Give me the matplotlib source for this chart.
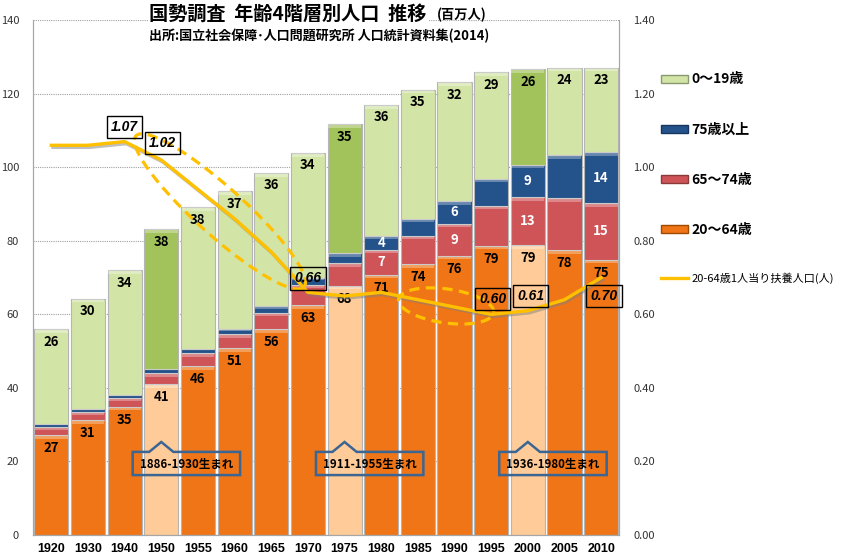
import numpy as np
import matplotlib.pyplot as plt
from matplotlib.patches import Patch, Polygon
from matplotlib.lines import Line2D
import matplotlib.patheffects as pe

plt.rcParams['font.family'] = ['Noto Sans CJK JP', 'DejaVu Sans']

# データ（百万人）
years = ['1920', '1930', '1940', '1950', '1955', '1960', '1965', '1970',
         '1975', '1980', '1985', '1990', '1995', '2000', '2005', '2010']
pop_20_64 = [27.2, 31.3, 34.9, 41.0, 46.0, 50.8, 56.0, 62.6,
             67.8, 70.8, 73.7, 76.0, 78.7, 78.8, 77.5, 74.9]
pop_65_74 = [2.2, 2.2, 2.4, 3.1, 3.4, 3.9, 4.5, 5.5,
             6.2, 6.8, 7.7, 8.7, 10.9, 13.0, 14.2, 15.3]
pop_75_over = [0.8, 0.8, 0.8, 1.0, 1.3, 1.4, 1.7, 1.8,
               2.6, 3.8, 4.6, 6.1, 7.3, 8.9, 11.6, 14.0]
pop_0_19 = [25.7, 30.0, 33.9, 38.1, 38.4, 37.4, 36.3, 34.0,
            35.1, 35.6, 35.1, 32.3, 28.9, 26.0, 23.8, 22.9]
# 20-64歳1人当り扶養人口
ratio = [1.06, 1.06, 1.07, 1.02, 0.94, 0.86, 0.77, 0.66,
         0.65, 0.66, 0.64, 0.62, 0.60, 0.61, 0.64, 0.70]

ratio_label_idx = [2, 3, 7, 12, 13, 15]
# ラベル位置のずらし（ポイント）
ratio_label_off = [(0, 10.5), (1, 12), (0, 10), (1, 11), (2, 10.5), (2, -13)]
mid_label_idx = [9, 11, 13, 15]
cohort_idx = [3, 8, 13]
cohort_text = ['1886-1930生まれ', '1911-1955生まれ', '1936-1980生まれ']

c_orange, c_peach = '#F07517', '#FFCB98'
c_pink, c_blue = '#CF5458', '#24528A'
c_lgreen, c_dgreen = '#D3E4A7', '#A2C35C'
c_line = '#FFC000'

fig = plt.figure(figsize=(8.5, 5.57), dpi=100)
ax = fig.add_axes([0.0388, 0.0395, 0.6900, 0.9241])

x = np.arange(len(years))
w = 0.93
col_a = [c_peach if i in cohort_idx else c_orange for i in x]
col_d = [c_dgreen if i in cohort_idx else c_lgreen for i in x]

series = [(pop_20_64, col_a), (pop_65_74, c_pink), (pop_75_over, c_blue), (pop_0_19, col_d)]
bottom = np.zeros(len(x))
bottoms = []
for vals, col in series:
    vals = np.array(vals)
    ax.bar(x, vals, w, bottom=bottom, color=col, edgecolor='#B5B5B5', lw=0.8, zorder=2)
    # 立体風のハイライト
    band = np.minimum(1.0, vals * 0.35)
    ax.bar(x, band, w * 0.96, bottom=bottom + vals - band, color='white', alpha=0.3,
           lw=0, zorder=2.1)
    bottoms.append(bottom.copy())
    bottom = bottom + vals
b65, b75, b019 = bottoms[1], bottoms[2], bottoms[3]

for i in x:
    ax.annotate(f'{pop_20_64[i]:.0f}', xy=(i, pop_20_64[i]), xytext=(0, -9.5),
                textcoords='offset points', ha='center', va='center',
                fontsize=9.5, fontweight='bold', color='black', zorder=3)
    top = b019[i] + pop_0_19[i]
    ax.annotate(f'{pop_0_19[i]:.0f}', xy=(i, top), xytext=(0, -9),
                textcoords='offset points', ha='center', va='center',
                fontsize=9.5, fontweight='bold', color='black', zorder=3)
for i in mid_label_idx:
    ax.text(i, b65[i] + pop_65_74[i] / 2, f'{pop_65_74[i]:.0f}', ha='center', va='center',
            fontsize=9.5, fontweight='bold', color='white', zorder=3)
    ax.text(i, b75[i] + pop_75_over[i] / 2, f'{pop_75_over[i]:.0f}', ha='center', va='center',
            fontsize=9.5, fontweight='bold', color='white', zorder=3)

ax.set_xlim(-0.5, 15.5)
ax.set_ylim(0, 140)
ax.set_yticks(range(0, 141, 20))
ax.set_xticks(x)
ax.set_xticklabels(years)
for t in ax.get_xticklabels():
    t.set_fontweight('bold')
    t.set_fontsize(9)
    t.set_family(['Liberation Sans', 'DejaVu Sans'])
ax.tick_params(axis='x', length=0, pad=6)
ax.tick_params(axis='y', length=0, pad=10, labelsize=8, labelcolor='#333333')
ax.yaxis.grid(True, ls=(0, (1, 1)), color='#A0A0A0', lw=0.8)
ax.set_axisbelow(True)
ax.spines['top'].set_visible(False)
for s in ['left', 'right', 'bottom']:
    ax.spines[s].set_color('#A6A6A6')

ax2 = ax.twinx()
ax2.set_ylim(0, 1.4)
ax2.set_yticks(np.arange(0, 1.41, 0.2))
ax2.set_yticklabels([f'{v:.2f}' for v in np.arange(0, 1.41, 0.2)])
ax2.tick_params(axis='y', length=0, pad=10, labelsize=8, labelcolor='#333333')
ax2.spines['top'].set_visible(False)
for s in ['left', 'right', 'bottom']:
    ax2.spines[s].set_color('#A6A6A6')

ax2.plot(x, ratio, color=c_line, lw=2.4, zorder=4, solid_joinstyle='round',
         path_effects=[pe.SimpleLineShadow(offset=(1.2, -1.5), shadow_color='#808080', alpha=0.5),
                       pe.Normal()])

for i, (dx, dy) in zip(ratio_label_idx, ratio_label_off):
    ax2.annotate(f'{ratio[i]:.2f}', xy=(i, ratio[i]), xytext=(dx, dy),
                 textcoords='offset points', ha='center', va='center',
                 fontsize=10, fontweight='bold', fontstyle='italic',
                 family=['Liberation Sans', 'DejaVu Sans'], zorder=5,
                 bbox=dict(boxstyle='square,pad=0.3', fc='none', ec='black', lw=1))

# 点線の楕円（ピクセル単位で作り、データ座標へ）
fig.canvas.draw()
bb = ax.get_window_extent()
ux = bb.width / 16.0
uy = bb.height / 140.0


def dashed_ellipse(cx, cy, a, b, ang):
    t = np.linspace(0, 2 * np.pi, 200)
    th = np.deg2rad(ang)
    px = a * np.cos(t) * np.cos(th) - b * np.sin(t) * np.sin(th)
    py = a * np.cos(t) * np.sin(th) + b * np.sin(t) * np.cos(th)
    ax2.plot(cx + px / ux, cy + py / uy, color=c_line, lw=2.3,
             dashes=(3.2, 2.0), transform=ax.transData, zorder=4)


dashed_ellipse(4.60, 88.0, 113, 24, -42)
dashed_ellipse(10.77, 62.3, 48, 17, -8)

# 生まれ年の吹き出し
for p, txt in zip(cohort_idx, cohort_text):
    l, r = p - 0.78, p + 2.15
    b, t, pk = 16.3, 22.6, 25.3
    poly = Polygon([(l, b), (r, b), (r, t), (p + 0.33, t), (p, pk), (p - 0.33, t), (l, t)],
                   closed=True, fill=False, ec='#3B6592', lw=1.8,
                   transform=ax.transData, zorder=5)
    ax2.add_patch(poly)
    ax2.text(p + 0.69, 19.3, txt, transform=ax.transData, ha='center', va='center',
             fontsize=8.3, fontweight='bold', zorder=6)

# タイトル
fig.text(149 / 850, 1 - 14 / 557, '国勢調査  年齢4階層別人口  推移', fontsize=13.8,
         fontweight='bold', ha='left', va='center',
         bbox=dict(fc='white', ec='none', pad=1))
fig.text(437 / 850, 1 - 15 / 557, '(百万人)', fontsize=9.5, fontweight='bold',
         ha='left', va='center')
fig.text(149 / 850, 1 - 36 / 557, '出所:国立社会保障･人口問題研究所 人口統計資料集(2014)',
         fontsize=9.4, fontweight='bold', ha='left', va='center')

handles = [Patch(fc=c_lgreen, ec='#8A9A70'), Patch(fc=c_blue, ec='#17365D'),
           Patch(fc=c_pink, ec='#8B3A3A'), Patch(fc=c_orange, ec='#A04A00'),
           Line2D([], [], color=c_line, lw=2.4)]
labels = ['0～19歳', '75歳以上', '65～74歳', '20～64歳', '20-64歳1人当り扶養人口(人)']
leg = fig.legend(handles, labels, loc='upper left', bbox_to_anchor=(648 / 850, 1 - 60 / 557),
                 frameon=False, prop=dict(weight='bold', size=10), labelspacing=2.6,
                 handlelength=2.0, handleheight=0.5, handletextpad=0.2)
leg.get_texts()[4].set_fontsize(8)
leg.get_texts()[4].set_fontweight('normal')

fig.savefig('out.png', dpi=100)
